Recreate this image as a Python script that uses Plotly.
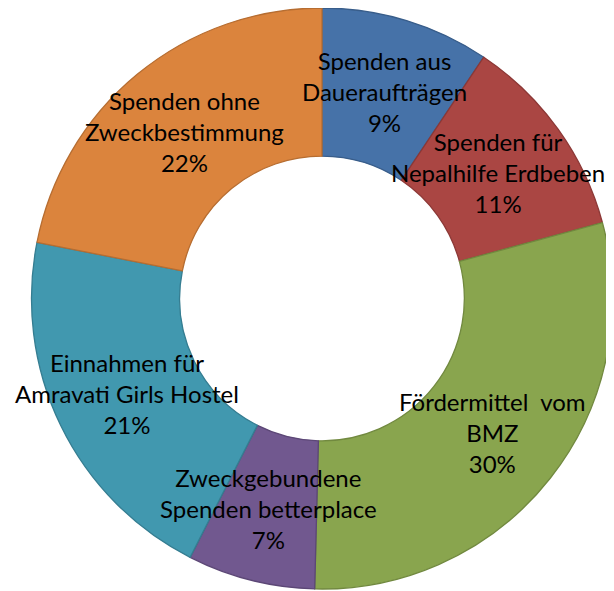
import math
import plotly.graph_objects as go

categories = [
    "Spenden aus<br>Daueraufträgen",
    "Spenden für<br>Nepalhilfe Erdbeben",
    "Fördermittel\u00a0 vom<br>BMZ",
    "Zweckgebundene<br>Spenden betterplace",
    "Einnahmen für<br>Amravati Girls Hostel",
    "Spenden ohne<br>Zweckbestimmung",
]
values = [9.4, 11.4, 29.6, 7.1, 20.6, 21.9]
fill_colors = ["#4672A8", "#AA4643", "#89A54E", "#71588F", "#4198AF", "#DB843D"]
line_colors = ["#385D8A", "#8C3836", "#71893F", "#5C4776", "#357D91", "#B66D31"]

# figure geometry (the page adds an 8px body margin around the figure)
W, H = 606, 583
HOLE = 0.49
CX, CY, R = 314.0, 290.5, 290.5

fig = go.Figure(go.Pie(
    labels=categories,
    values=values,
    hole=HOLE,
    sort=False,
    direction="clockwise",
    rotation=0,
    marker=dict(colors=fill_colors, line=dict(color=line_colors, width=1.3)),
    textinfo="none",
    hoverinfo="label+percent",
    showlegend=False,
    domain=dict(x=[(CX - R) / W, (CX + R) / W], y=[1 - (CY + R) / H, 1 - (CY - R) / H]),
))

# data labels placed at the middle of each ring segment
total = sum(values)
cum = 0.0
annotations = []
for lab, v in zip(categories, values):
    mid = (cum + v / 2) / total * 2 * math.pi
    cum += v
    rr = R * (1 + HOLE) / 2
    px = CX + rr * math.sin(mid)
    py = CY - rr * math.cos(mid)
    annotations.append(dict(
        x=px / W, y=1 - py / H, xref="paper", yref="paper",
        xanchor="center", yanchor="middle", showarrow=False,
        text=f"{lab}<br>{round(v / total * 100)}%",
        font=dict(family="Lato", size=24, color="#000000"),
        align="center",
    ))

fig.update_layout(
    width=W, height=H,
    margin=dict(l=0, r=0, t=0, b=0),
    paper_bgcolor="white",
    annotations=annotations,
)
fig.write_html("out.html")
